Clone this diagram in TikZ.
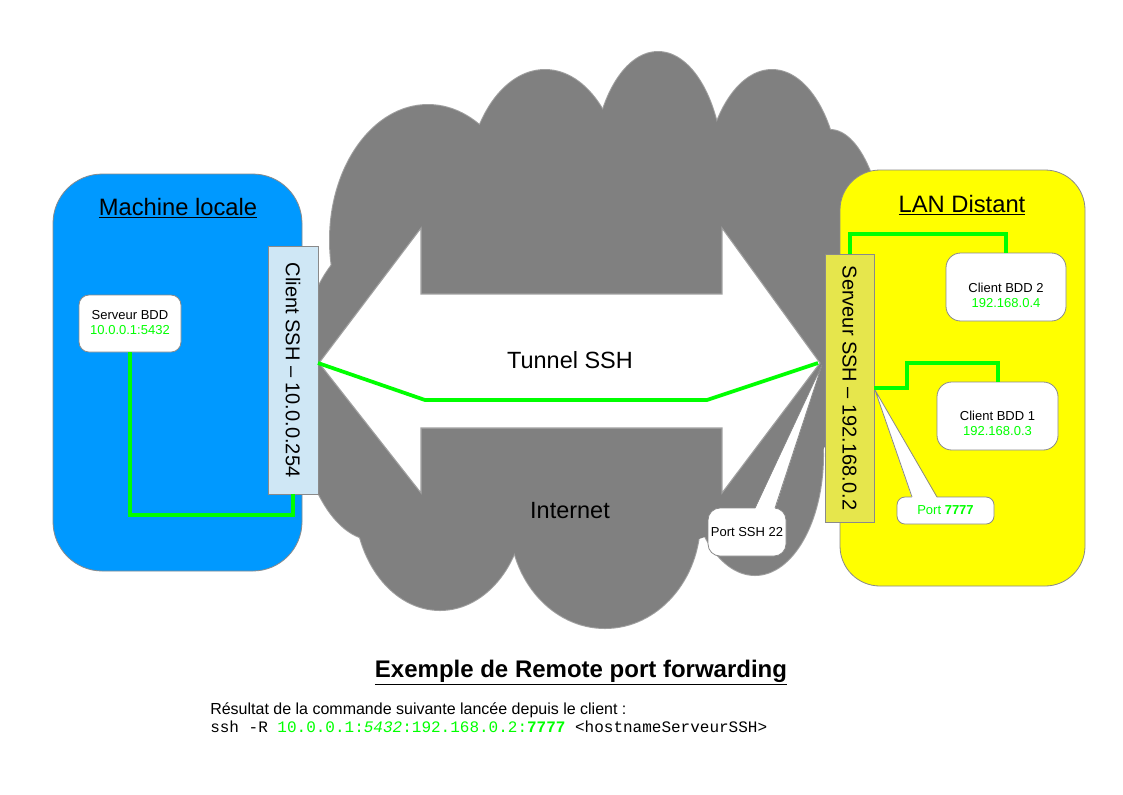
\documentclass[tikz,border=0pt]{standalone}
\usepackage{fontspec}
\usepackage{graphicx}
\setmainfont{Liberation Sans}
\setmonofont{Liberation Mono}
\definecolor{cloudgray}{HTML}{808080}
\definecolor{cloudline}{HTML}{A0A0A0}
\definecolor{localblue}{HTML}{0099FF}
\definecolor{lanyellow}{HTML}{FFFF00}
\definecolor{netgreen}{HTML}{00FF00}
\definecolor{clientblue}{HTML}{CFE7F5}
\definecolor{serverolive}{HTML}{E6E64C}
\definecolor{bordergray}{HTML}{8A8A8A}
\begin{document}
\begin{tikzpicture}[x=0.75pt,y=-0.75pt,
  zone/.style={draw=bordergray, line width=0.6pt, inner sep=0pt},
  sshbox/.style={draw=bordergray, line width=0.6pt, inner sep=0pt, font=\fontsize{15}{18}\selectfont},
  hostbox/.style={draw=bordergray, fill=white, line width=0.6pt, rounded corners=9pt, inner sep=0pt},
  small/.style={font=\fontsize{9.75}{11.25}\selectfont, align=center, inner sep=0pt},
  big/.style={font=\fontsize{17.6}{21}\selectfont, inner sep=0pt},
  title/.style={font=\fontsize{17.8}{21}\selectfont, inner sep=0pt},
  link/.style={draw=netgreen, line width=3pt, line join=miter},
  tail/.style={draw=bordergray, line width=0.6pt},
]
\useasboundingbox (0,0) rectangle (1123,794);
\fill[white] (0,0) rectangle (1123,794);

% cloud (Internet)
\foreach \cx/\cy/\rx/\ry in {428/240/98/135, 545/192/78/122, 658/175/65/123, 772/195/68/125, 830/280/58/150, 375/390/78/150, 440/500/85/110, 605/520/95/108, 755/455/68/120}
  \draw[cloudline, line width=1.5pt] (\cx,\cy) ellipse [x radius=\rx, y radius=\ry];
\foreach \cx/\cy/\rx/\ry in {428/240/98/135, 545/192/78/122, 658/175/65/123, 772/195/68/125, 830/280/58/150, 375/390/78/150, 440/500/85/110, 605/520/95/108, 755/455/68/120, 600/350/255/205}
  \fill[cloudgray] (\cx,\cy) ellipse [x radius=\rx, y radius=\ry];

% double arrow (tunnel)
\filldraw[fill=white, draw=cloudline, line width=0.8pt]
  (319,363) -- (421,228) -- (421,294) -- (722,294) -- (722,228) -- (820,363)
  -- (722,493) -- (722,428) -- (421,428) -- (421,493) -- cycle;

\node[big, anchor=base] (tunnel) at (570,368) {Tunnel SSH};
\node[big, anchor=base] (internet) at (570,518) {Internet};

% zones
\node[zone, fill=localblue, rounded corners=37pt, minimum width=186.75pt, minimum height=297.75pt] (local) at (177.5,372.5) {};
\node[zone, fill=lanyellow, rounded corners=30pt, minimum width=183.75pt, minimum height=312pt] (lan) at (962.5,378) {};
\node[title, anchor=base] (localtitle) at (178,215) {\underline{Machine locale}};
\node[title, anchor=base] (lantitle) at (962,212) {\underline{LAN Distant}};

% SSH boxes
\node[sshbox, fill=clientblue, minimum width=37.5pt, minimum height=186pt] (client) at (293,370) {\rotatebox{-90}{Client SSH – 10.0.0.254}};
\node[sshbox, fill=serverolive, minimum width=36.75pt, minimum height=201pt] (srv) at (849.5,388) {\rotatebox{-90}{Serveur SSH – 192.168.0.2}};

% tunnel line
\coordinate (tL) at (318,363);
\coordinate (t1) at (425,400);
\coordinate (t2) at (707,400);
\coordinate (tR) at (818,363);
\draw[link, line width=2.8pt] (tL) -- (t1) -- (t2) -- (tR);

% hosts
\node[hostbox, rounded corners=7.5pt, minimum width=76.5pt, minimum height=42.75pt] (bdd) at (130,323.5) {};
\node[small] (bddtext) at (130,323) {Serveur BDD\\\textcolor{netgreen}{10.0.0.1:5432}};
\node[hostbox, rounded corners=11pt, minimum width=90pt, minimum height=51pt] (cbdd2) at (1006,287) {};
\node[small] (c2text) at (1006,295) {Client BDD 2\\\textcolor{netgreen}{192.168.0.4}};
\node[hostbox, rounded corners=11pt, minimum width=90.75pt, minimum height=51pt] (cbdd1) at (997.5,416) {};
\node[small] (c1text) at (997.5,423) {Client BDD 1\\\textcolor{netgreen}{192.168.0.3}};

% green links
\coordinate (jl) at (200,515);
\draw[link] (bdd.south) |- (jl) -| (client.south);
\coordinate (k2) at (930,234);
\draw[link] (srv.north) |- (k2) -| (cbdd2.north);
\coordinate (k1) at (907,363);
\draw[link] (srv.east) -| (k1) -| (cbdd1.north);

% callout Port SSH 22
\node[hostbox, rounded corners=9pt, minimum width=58.5pt, minimum height=36pt] (p22) at (747,532) {};
\coordinate (tip22) at (822,365);
\fill[white] (755,509) -- (tip22) -- (775,509) -- cycle;
\draw[tail] (755,508) -- (tip22) -- (775,508);
\node[small] (p22text) at (747,532) {Port SSH 22};

% callout Port 7777
\node[hostbox, rounded corners=6pt, minimum width=72.75pt, minimum height=20.25pt] (p7777) at (945.5,510.5) {};
\coordinate (tip7777) at (875,390);
\fill[white] (912,498) -- (tip7777) -- (937,498) -- cycle;
\draw[tail] (912,497) -- (tip7777) -- (937,497);
\node[small] (p7777text) at (945.5,510.5) {\textcolor{netgreen}{Port \textbf{7777}}};

% bottom texts
\node[font=\bfseries\fontsize{18}{21}\selectfont, anchor=base, inner sep=0pt] (caption) at (581,677) {\underline{Exemple de Remote port forwarding}};
\node[font=\fontsize{12}{14}\selectfont, anchor=base west, inner sep=0pt] (desc) at (210,714) {Résultat de la commande suivante lancée depuis le client :};
\node[font=\ttfamily\fontsize{12}{14}\selectfont, anchor=base west, inner sep=0pt] (cmd) at (210,732) {ssh -R \textcolor{netgreen}{10.0.0.1:\textit{5432}:192.168.0.2:\textbf{7777}} <hostnameServeurSSH>};
\end{tikzpicture}
\end{document}
